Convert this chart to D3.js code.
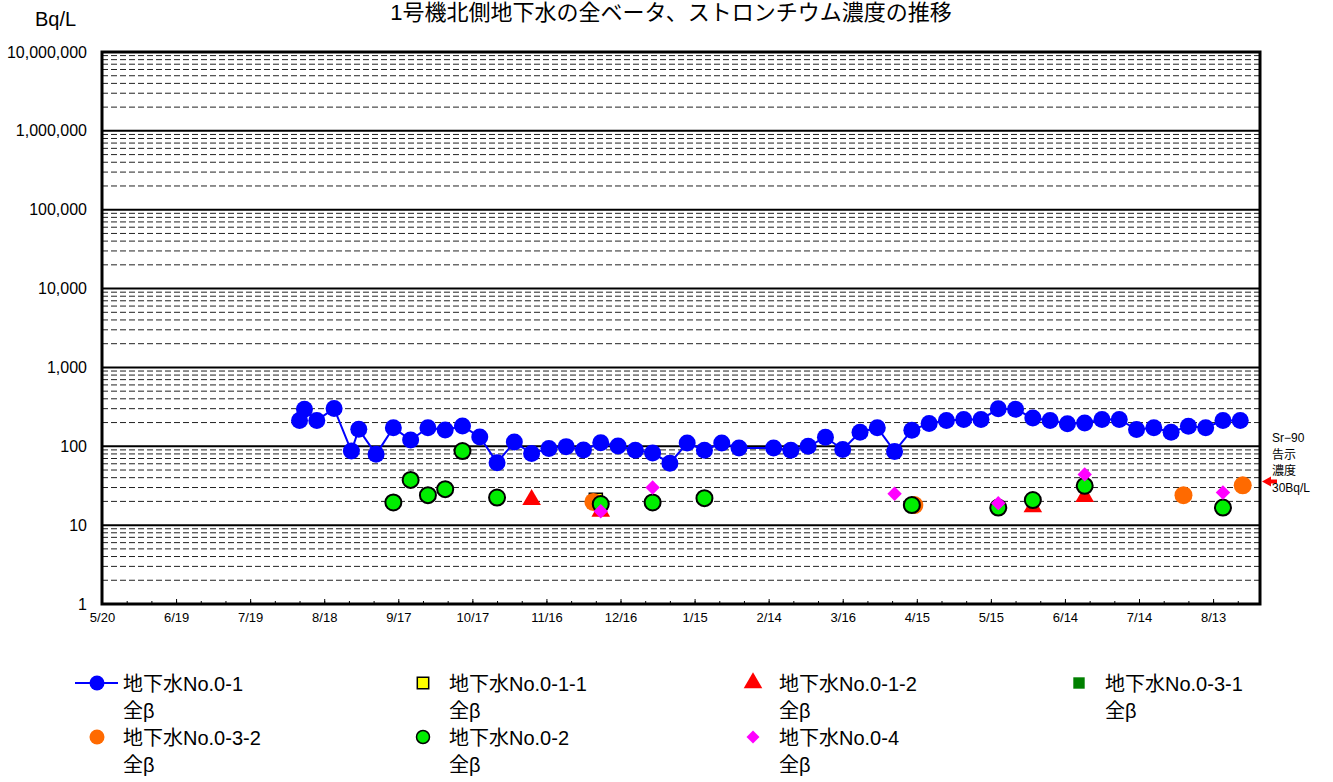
<!DOCTYPE html>
<html>
<head>
<meta charset="utf-8">
<script src="https://cdn.jsdelivr.net/npm/d3@7/dist/d3.min.js"></script>
<style>
  html, body { margin: 0; padding: 0; background: #fff; }
  svg { display: block; font-family: "Liberation Sans", Arial, "Noto Sans CJK JP", sans-serif; }
</style>
</head>
<body>
<svg id="chart" width="1333" height="782"></svg>
<script>
// ---- data (Bq/L) ----
const titleText = "1号機北側地下水の全ベータ、ストロンチウム濃度の推移";
const yTickValues = [1, 10, 100, 1000, 10000, 100000, 1000000, 10000000];
const xTickLabels = ["5/20","6/19","7/19","8/18","9/17","10/17","11/16","12/16","1/15","2/14","3/16","4/15","5/15","6/14","7/14","8/13"];

// 地下水No.0-1 全β
const well01 = [
  ["2013-08-08",213],["2013-08-10",294],["2013-08-15",213],["2013-08-22",302],
  ["2013-08-29",87],["2013-09-01",164],["2013-09-08",79],["2013-09-15",172],
  ["2013-09-22",120],["2013-09-29",172],["2013-10-06",161],["2013-10-13",181],
  ["2013-10-20",131],["2013-10-27",62],["2013-11-03",113],["2013-11-10",81],
  ["2013-11-17",94],["2013-11-24",99],["2013-12-01",90],["2013-12-08",111],
  ["2013-12-15",101],["2013-12-22",89],["2013-12-29",82],["2014-01-05",61],
  ["2014-01-12",110],["2014-01-19",89],["2014-01-26",110],["2014-02-02",95],
  ["2014-02-16",95],["2014-02-23",89],["2014-03-02",100],["2014-03-09",130],
  ["2014-03-16",91],["2014-03-23",151],["2014-03-30",172],["2014-04-06",86],
  ["2014-04-13",160],["2014-04-20",195],["2014-04-27",213],["2014-05-04",219],
  ["2014-05-11",219],["2014-05-18",299],["2014-05-25",294],["2014-06-01",229],
  ["2014-06-08",213],["2014-06-15",193],["2014-06-22",198],["2014-06-29",219],
  ["2014-07-06",219],["2014-07-13",163],["2014-07-20",172],["2014-07-27",151],
  ["2014-08-03",180],["2014-08-10",172],["2014-08-17",213],["2014-08-24",213]
];
// 地下水No.0-1-1 全β
const well011 = [["2013-12-06",21]];
// 地下水No.0-1-2 全β
const well012 = [["2013-11-10",21],["2013-12-08",15],["2014-06-01",17],["2014-06-22",23]];
// 地下水No.0-3-1 全β
const well031 = [];
// 地下水No.0-3-2 全β
const well032 = [["2013-12-05",19.7],["2014-04-14",18],["2014-08-01",24],["2014-08-25",32]];
// 地下水No.0-2 全β
const well02 = [
  ["2013-09-15",19.4],["2013-09-22",37.5],["2013-09-29",24],["2013-10-06",28.6],
  ["2013-10-13",87],["2013-10-27",22.4],["2013-12-08",18.5],["2013-12-29",19.4],
  ["2014-01-19",22],["2014-04-13",18],["2014-05-18",16.7],["2014-06-01",20.8],
  ["2014-06-22",31.5],["2014-08-17",16.7]
];
// 地下水No.0-4 全β
const well04 = [["2013-12-08",15],["2013-12-29",30],["2014-04-06",25],["2014-05-18",19],["2014-06-22",44],["2014-08-17",26]];

const srLimit = 30; // Sr-90 告示濃度

// ---- layout ----
const svg = d3.select("#chart");
const L = 102, R = 1260, T = 52, B = 604;
const parse = d3.timeParse("%Y-%m-%d");
const start = parse("2013-05-20"), end = parse("2014-09-01");
const jpFont = "'Liberation Sans', 'Noto Sans CJK JP', sans-serif";

const x = d3.scaleTime().domain([start, end]).range([L, R]);
const y = d3.scaleLog().domain([1, 1e7]).range([B, T]);

const toPts = arr => arr.map(([d, v]) => ({date: parse(d), v}));

// title and unit
svg.append("text").attr("x", 671).attr("y", 20).attr("text-anchor", "middle")
  .attr("font-size", 22).attr("font-family", jpFont).text(titleText);
svg.append("text").attr("x", 35).attr("y", 26).attr("font-size", 20).text("Bq/L");

// gridlines
const grid = svg.append("g");
for (let e = 0; e < 7; e++) {
  for (let k = 2; k <= 9; k++) {
    const v = k * Math.pow(10, e);
    grid.append("line").attr("x1", L).attr("x2", R).attr("y1", y(v)).attr("y2", y(v))
      .attr("stroke", "#222").attr("stroke-width", 1).attr("stroke-dasharray", "6,3");
  }
}
yTickValues.slice(1, -1).forEach(v => {
  grid.append("line").attr("x1", L).attr("x2", R).attr("y1", y(v)).attr("y2", y(v))
    .attr("stroke", "#000").attr("stroke-width", 2);
});

// y axis labels
const yAxis = d3.axisLeft(y).tickValues(yTickValues).tickSize(0).tickPadding(15)
  .tickFormat(d3.format(","));
svg.append("g").attr("transform", `translate(${L},0)`).call(yAxis)
  .call(g => g.select(".domain").remove())
  .selectAll("text").attr("font-size", 16).attr("fill", "#000")
  .attr("font-family", "'Liberation Sans', Arial, sans-serif");

// x axis: major every 30 days, minor every 10 days (ticks point inward)
const majorDates = xTickLabels.map((_, i) => d3.timeDay.offset(start, 30 * i));
const minorDates = d3.range(0, 470, 10).map(i => d3.timeDay.offset(start, i));
svg.append("g").attr("transform", `translate(0,${B})`)
  .call(d3.axisBottom(x).tickValues(minorDates).tickSizeInner(-3).tickSizeOuter(0).tickFormat(""))
  .call(g => g.select(".domain").remove());
svg.append("g").attr("transform", `translate(0,${B})`)
  .call(d3.axisBottom(x).tickValues(majorDates).tickSizeInner(-5).tickSizeOuter(0).tickPadding(9)
    .tickFormat((d, i) => xTickLabels[i]))
  .call(g => g.select(".domain").remove())
  .selectAll("text").attr("font-size", 13).attr("fill", "#000")
  .attr("font-family", "'Liberation Sans', Arial, sans-serif");

// plot frame
svg.append("rect").attr("x", L).attr("y", T).attr("width", R - L).attr("height", B - T)
  .attr("fill", "none").attr("stroke", "#000").attr("stroke-width", 3);

// ---- marks ----
const plot = svg.append("g");
const symTri = d3.symbol().type(d3.symbolTriangle).size(150);
const symSq = d3.symbol().type(d3.symbolSquare).size(170);
const symDia = d3.symbol().type(d3.symbolSquare).size(104); // drawn rotated 45°

function circles(data, fill, r, stroke) {
  plot.append("g").selectAll("circle").data(toPts(data)).join("circle")
    .attr("cx", d => x(d.date)).attr("cy", d => y(d.v)).attr("r", r)
    .attr("fill", fill).attr("stroke", stroke || "none").attr("stroke-width", stroke ? 2 : 0);
}
function symbols(data, sym, fill, stroke, rot) {
  plot.append("g").selectAll("path").data(toPts(data)).join("path")
    .attr("d", sym).attr("transform", d => `translate(${x(d.date)},${y(d.v)}) rotate(${rot || 0})`)
    .attr("fill", fill).attr("stroke", stroke || "none").attr("stroke-width", stroke ? 1.5 : 0);
}

// No.0-1 line + markers
const p01 = toPts(well01);
plot.append("path").datum(p01)
  .attr("d", d3.line().x(d => x(d.date)).y(d => y(d.v)))
  .attr("fill", "none").attr("stroke", "#0000ff").attr("stroke-width", 2);
circles(well01, "#0000ff", 8.5);
symbols(well011, symSq, "#ffff00", "#000");
symbols(well012, symTri, "#ff0000");
symbols(well031, symSq, "#008000");
circles(well032, "#ff6a00", 9);
circles(well02, "#00ee00", 8, "#000");
symbols(well04, symDia, "#ff00ff", null, 45);

// Sr-90 annotation on the right
const ay = y(srLimit) - 6;
svg.append("path").attr("d", `M${R + 2},${ay} l9,-5 l0,3 l6,0 l0,4 l-6,0 l0,3 z`).attr("fill", "#ff0000");
["Sr−90", "告示", "濃度", "30Bq/L"].forEach((t, i) => {
  svg.append("text").attr("x", 1272).attr("y", 442 + i * 16.5)
    .attr("font-size", 12).attr("font-family", jpFont).text(t);
});

// ---- legend ----
const legendItems = [
  {name: "地下水No.0-1", kind: "line", col: 0, row: 0},
  {name: "地下水No.0-1-1", kind: "square", fill: "#ffff00", stroke: "#000", col: 1, row: 0},
  {name: "地下水No.0-1-2", kind: "tri", fill: "#ff0000", col: 2, row: 0},
  {name: "地下水No.0-3-1", kind: "square", fill: "#008000", col: 3, row: 0},
  {name: "地下水No.0-3-2", kind: "circle", fill: "#ff6a00", col: 0, row: 1},
  {name: "地下水No.0-2", kind: "circle", fill: "#00ee00", stroke: "#000", col: 1, row: 1},
  {name: "地下水No.0-4", kind: "dia", fill: "#ff00ff", col: 2, row: 1}
];
const colX = [97, 423, 753, 1079], rowY = [683, 737];
const lg = svg.append("g");
legendItems.forEach(it => {
  const cx = colX[it.col], cy = rowY[it.row];
  const g = lg.append("g");
  if (it.kind === "line") {
    g.append("line").attr("x1", cx - 22).attr("x2", cx + 21).attr("y1", cy).attr("y2", cy)
      .attr("stroke", "#0000ff").attr("stroke-width", 2);
    g.append("circle").attr("cx", cx).attr("cy", cy).attr("r", 7.5).attr("fill", "#0000ff");
  } else if (it.kind === "circle") {
    g.append("circle").attr("cx", cx).attr("cy", cy).attr("r", it.stroke ? 6.5 : 7.5)
      .attr("fill", it.fill).attr("stroke", it.stroke || "none").attr("stroke-width", it.stroke ? 1.5 : 0);
  } else {
    const s = it.kind === "tri" ? symTri
      : it.kind === "dia" ? d3.symbol().type(d3.symbolSquare).size(84)
      : d3.symbol().type(d3.symbolSquare).size(130);
    g.append("path").attr("d", s)
      .attr("transform", `translate(${cx},${cy}) rotate(${it.kind === "dia" ? 45 : 0})`)
      .attr("fill", it.fill).attr("stroke", it.stroke || "none").attr("stroke-width", it.stroke ? 1.5 : 0);
  }
  g.append("text").attr("x", cx + 26).attr("y", cy + 8)
    .attr("font-size", 20).attr("font-family", jpFont).text(it.name);
  g.append("text").attr("x", cx + 26).attr("y", cy + 35)
    .attr("font-size", 20).attr("font-family", jpFont).text("全β");
});
</script>
</body>
</html>
